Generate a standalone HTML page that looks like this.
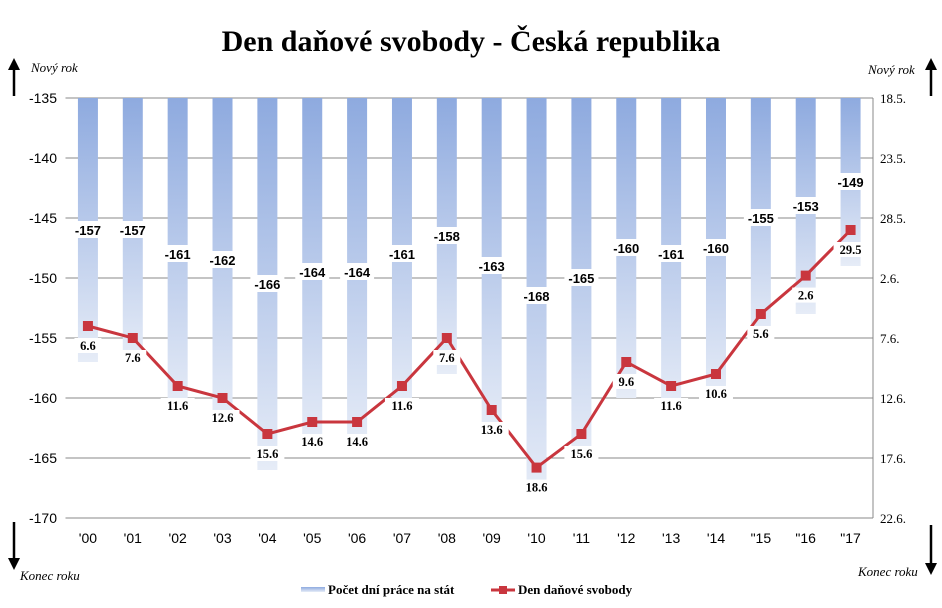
<!DOCTYPE html>
<html><head><meta charset="utf-8"><style>
body{margin:0;background:#fff;width:942px;height:608px;overflow:hidden}
svg{display:block}
</style></head><body>
<svg width="942" height="608" xmlns="http://www.w3.org/2000/svg">
<defs>
<linearGradient id="bg" x1="0" y1="0" x2="0" y2="1">
<stop offset="0" stop-color="#8eaadf"/><stop offset="1" stop-color="#e6ecf7"/>
</linearGradient>
<marker id="ah" markerUnits="userSpaceOnUse" markerWidth="12" markerHeight="12" refX="2" refY="6" orient="auto"><path d="M0,0 L12,6 L0,12 z" fill="#000"/></marker>
</defs>
<text x="471" y="51" text-anchor="middle" font-family="Liberation Serif, serif" font-weight="bold" font-size="30">Den daňové svobody - Česká republika</text>
<g id="grid"></g><g id="bars"></g><g id="line"></g><g id="labels"></g><g id="axes"></g>
<line x1="14" y1="96" x2="14" y2="68" stroke="#000" stroke-width="2.5" marker-end="url(#ah)"/>
<text x="31" y="72" font-family="Liberation Serif, serif" font-style="italic" font-size="13">Nový rok</text>
<line x1="14" y1="522" x2="14" y2="560" stroke="#000" stroke-width="2.5" marker-end="url(#ah)"/>
<text x="20" y="580" font-family="Liberation Serif, serif" font-style="italic" font-size="13">Konec roku</text>
<line x1="931" y1="96" x2="931" y2="68" stroke="#000" stroke-width="2.5" marker-end="url(#ah)"/>
<text x="868" y="74" font-family="Liberation Serif, serif" font-style="italic" font-size="13">Nový rok</text>
<line x1="931" y1="525" x2="931" y2="565" stroke="#000" stroke-width="2.5" marker-end="url(#ah)"/>
<text x="858" y="576" font-family="Liberation Serif, serif" font-style="italic" font-size="13">Konec roku</text>
<g>
<rect x="301" y="587" width="24" height="5" fill="url(#bg)"/>
<text x="328" y="594" font-family="Liberation Serif, serif" font-weight="bold" font-size="13">Počet dní práce na stát</text>
<line x1="491" y1="590" x2="515" y2="590" stroke="#c9363e" stroke-width="3"/>
<rect x="499" y="586" width="8" height="8" fill="#c9363e"/>
<text x="518" y="594" font-family="Liberation Serif, serif" font-weight="bold" font-size="13">Den daňové svobody</text>
</g>
</svg>
<script>
const categories=["'00","'01","'02","'03","'04","'05","'06","'07","'08","'09","'10","'11","'12","'13","'14","\"15","\"16","\"17"];
const barValues=[-157,-157,-161,-162,-166,-164,-164,-161,-158,-163,-168,-165,-160,-161,-160,-155,-153,-149];
const lineValues=[-154,-155,-159,-160,-163,-162,-162,-159,-155,-161,-165.8,-163,-157,-159,-158,-153,-149.8,-146];
const lineLabels=["6.6","7.6","11.6","12.6","15.6","14.6","14.6","11.6","7.6","13.6","18.6","15.6","9.6","11.6","10.6","5.6","2.6","29.5"];
const leftTicks=[-135,-140,-145,-150,-155,-160,-165,-170];
const rightTicks=["18.5.","23.5.","28.5.","2.6.","7.6.","12.6.","17.6.","22.6."];
const NS="http://www.w3.org/2000/svg";
const X0=65.5,X1=873,Y0=98,Y1=518,VMAX=-135,VMIN=-170;
const bw=(X1-X0)/categories.length;
const xc=i=>X0+bw*(i+0.5);
const y=v=>Y0+(VMAX-v)/(VMAX-VMIN)*(Y1-Y0);
function mk(tag,attrs,parent,txt){const e=document.createElementNS(NS,tag);for(const k in attrs)e.setAttribute(k,attrs[k]);if(txt!=null)e.textContent=txt;document.getElementById(parent).appendChild(e);return e;}
leftTicks.forEach((t,i)=>{
 const e=mk('line',{x1:X0,x2:X1,y1:y(t),y2:y(t),stroke:'#888','stroke-width':1},'grid');
 
 
 const l=mk('text',{x:57,y:y(t)+5,'text-anchor':'end','font-family':'Liberation Sans, sans-serif','font-size':14},'axes',String(t));
 
 
 const r=mk('text',{x:880,y:y(t)+5,'font-family':'Liberation Serif, serif','font-size':13},'axes',rightTicks[i]);
 
 
});
const ra=mk('line',{x1:X1,x2:X1,y1:Y0,y2:Y1,stroke:'#888'},'axes');


categories.forEach((c,i)=>{
 const t=mk('text',{x:xc(i),y:543,'text-anchor':'middle','font-family':'Liberation Sans, sans-serif','font-size':14},'axes',c);
 
 
});
barValues.forEach((v,i)=>{
 const b=mk('rect',{x:xc(i)-10,y:Y0,width:20,height:y(v)-Y0,fill:'url(#bg)'},'bars');
 
 
 const my=(Y0+y(v))/2;
 mk('rect',{x:xc(i)-17,y:my-9,width:34,height:17,fill:'#fff'},'labels');
 const t=mk('text',{x:xc(i),y:my+5,'text-anchor':'middle','font-family':'Liberation Sans, sans-serif','font-weight':'bold','font-size':13},'labels',String(v));
 
 
});
const pts=lineValues.map((v,i)=>xc(i)+','+y(v)).join(' ');
const pl=mk('polyline',{points:pts,fill:'none',stroke:'#c9363e','stroke-width':3},'line');


lineValues.forEach((v,i)=>{
 const m=mk('rect',{x:xc(i)-5,y:y(v)-5,width:10,height:10,fill:'#c9363e'},'line');
 
 
 const w=lineLabels[i].length*7+6;
 mk('rect',{x:xc(i)-w/2,y:y(v)+12,width:w,height:15,fill:'#fff'},'labels');
 const t=mk('text',{x:xc(i),y:y(v)+24,'text-anchor':'middle','font-family':'Liberation Serif, serif','font-weight':'bold','font-size':12.5},'labels',lineLabels[i]);
 
 
});
</script>
</body></html>
